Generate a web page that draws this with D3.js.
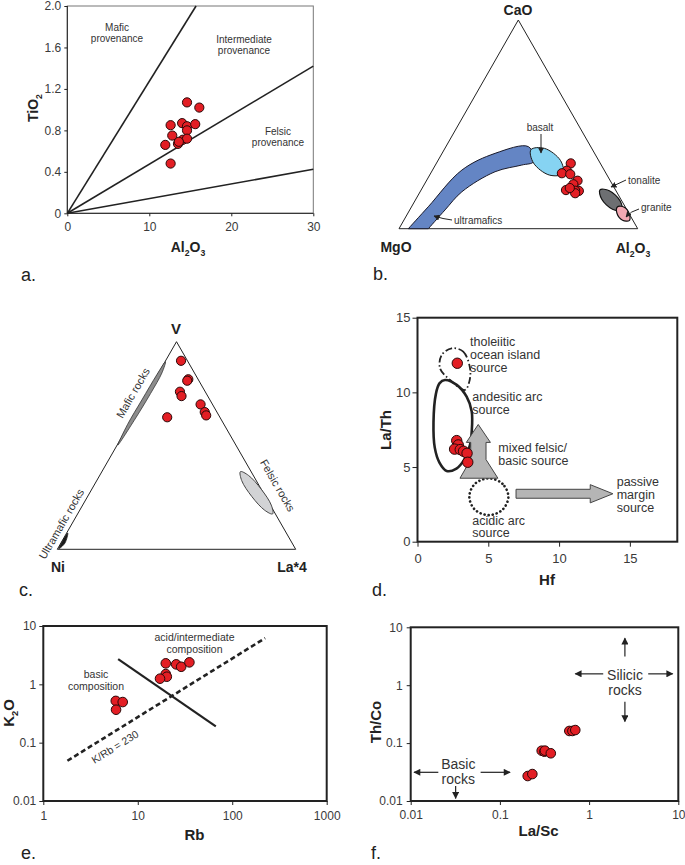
<!DOCTYPE html>
<html>
<head>
<meta charset="utf-8">
<script src="https://cdn.jsdelivr.net/npm/d3@7"></script>
<style>
  body { margin: 0; background: #fff; }
  svg { font-family: "Liberation Sans", Arial, Helvetica, sans-serif; }
</style>
</head>
<body>
<script>
/* ---- a. TiO2 vs Al2O3 ---- */
var aAl2O3 = [14.6, 16.1, 12.6, 14.0, 14.6, 15.6, 14.6, 12.8, 14.1, 14.6, 13.5, 13.6, 11.95, 12.6];
var aTiO2  = [1.07, 1.02, 0.85, 0.87, 0.84, 0.86, 0.80, 0.75, 0.71, 0.72, 0.67, 0.69, 0.66, 0.48];
var aBoundaries = [[[0, 0], [15.7, 2.0]], [[0, 0], [30, 1.42]], [[0, 0], [30, 0.425]]];
var aXTicks = [0, 10, 20, 30];
var aYTicks = [0, 0.4, 0.8, 1.2, 1.6, 2.0];

/* ---- b. CaO - MgO - Al2O3 ternary, points are [CaO, MgO, Al2O3] ---- */
var bSamples = [[31.3, 12.4, 56.3], [27.8, 15.8, 56.4], [26.6, 18.5, 55.0], [26.1, 15.2, 58.7],
                [23.0, 13.7, 63.3], [21.3, 16.3, 62.4], [18.5, 20.8, 60.7], [18.1, 15.6, 66.3],
                [18.2, 17.1, 64.7], [17.0, 17.7, 65.3], [19.5, 18.7, 61.8]];
var bUltramaficOuter = [[0, 96.1, 3.9], [10.5, 82.5, 7.0], [28.1, 59.6, 12.3], [36.1, 41.7, 22.2], [39.3, 26.1, 34.6]];
var bUltramaficInner = [[32.1, 27.6, 40.3], [30.5, 33.3, 36.2], [27.3, 46.1, 26.6], [17.7, 64.8, 17.5], [9.0, 76.2, 14.8], [0, 87.7, 12.3]];
var bBasalt   = [[26.35, 18.15, 55.5], [25.73, 24.2, 50.1], [31.48, 27.9, 40.6], [37.85, 25.8, 36.35], [38.48, 19.8, 41.7], [32.68, 16.0, 51.3]];
var bTonalite = [[8.86, 2.2, 88.9], [9.34, 5.9, 84.8], [14.23, 8.0, 77.8], [18.64, 6.5, 74.85], [18.16, 2.8, 79.0], [13.27, 0.7, 86.0]];
var bGranite  = [[3.88, 1.6, 94.5], [4.07, 4.3, 91.6], [7.38, 5.0, 87.6], [10.49, 3.2, 86.3], [10.3, 0.5, 89.2], [7.0, 0.0, 93.0]];

/* ---- c. V - Ni - La*4 ternary, points are [V, Ni, La*4] ---- */
var cSamples = [[90.8, 2.7, 6.5], [81.9, 4.1, 14.0], [81.2, 4.9, 13.9], [75.9, 10.6, 13.5], [73.8, 11.0, 15.2],
                [69.8, 5.0, 25.2], [66.1, 5.1, 28.8], [64.5, 5.3, 30.2], [63.6, 22.1, 14.3]];
var cMafic  = [[90.4, 9.4, 0.2], [85, 13.6, 1.4], [75, 23.4, 1.6], [62, 36.8, 1.2], [50.2, 49.5, 0.3], [60, 40.6, -0.6], [72, 28.5, -0.5], [84, 16.3, -0.3]];
var cFelsic = [[17.05, 1.15, 81.8], [18.8, 3.6, 77.6], [25.4, 5.7, 68.9], [33.1, 6.1, 60.8], [37.4, 4.5, 58.1], [35.6, 2.0, 62.4], [29.0, 0.0, 71.0], [21.3, -0.4, 79.1]];
var cUltramafic = [[0.3, 99.2, 0.5], [3, 95.3, 1.7], [7.8, 91.7, 0.5], [4, 95.8, 0.2]];

/* ---- d. La/Th vs Hf ---- */
var dHf   = [2.81, 2.77, 2.88, 2.62, 3.02, 3.25, 3.5, 3.55];
var dLaTh = [11.95, 6.77, 6.48, 6.2, 6.17, 6.06, 5.92, 5.32];
var dTholeiitic = [[2.42, 12.95], [3.23, 12.73], [3.71, 11.61], [3.66, 10.72], [3.35, 10.16], [2.30, 10.83], [1.59, 11.61], [1.71, 12.5]];
var dAndesitic = [[1.94, 10.83], [2.77, 10.5], [3.47, 9.71], [3.83, 8.71], [3.83, 7.37], [3.71, 6.48], [3.3, 5.5],
                  [2.75, 4.9], [2.06, 4.74], [1.55, 5.3], [1.22, 6.3], [1.13, 8.0], [1.3, 9.9], [1.55, 10.6]];
var dAcidic = [[6.42, 3.01], [6.0, 3.88], [5.04, 4.24], [4.06, 3.88], [3.66, 3.01], [4.06, 2.14], [5.04, 1.78], [6.0, 2.14]];
var dMixedArrow = [[4.29, 7.85], [5.15, 6.65], [4.84, 6.65], [4.84, 5.5], [5.68, 4.25], [3.0, 4.25], [3.76, 5.5], [3.76, 6.65], [3.45, 6.65]];
var dPassiveArrow = [[6.96, 3.51], [12.2, 3.51], [12.2, 3.82], [13.8, 3.21], [12.2, 2.6], [12.2, 2.91], [6.96, 2.91]];
var dTicks = [0, 5, 10, 15];

/* ---- e. K2O vs Rb ---- */
var eRb  = [19.8, 25.5, 28.8, 35.2, 19.8, 20.3, 17.2, 5.85, 6.93, 5.89];
var eK2O = [2.29, 2.2, 2.0, 2.38, 1.5, 1.35, 1.25, 0.52, 0.497, 0.367];
var eKRbLine = [[1.8, 0.049], [223, 6.2]];
var eDivider = [[6.2, 2.7], [67, 0.19]];
var eXTicks = [1, 10, 100, 1000];
var eYTicks = [0.01, 0.1, 1, 10];

/* ---- f. Th/Co vs La/Sc ---- */
var fLaSc = [0.205, 0.231, 0.294, 0.315, 0.32, 0.372, 0.6, 0.65, 0.7];
var fThCo = [0.027, 0.0292, 0.0739, 0.071, 0.074, 0.0667, 0.162, 0.162, 0.168];
var fArrows = [[[2.52, 3.12], [2.52, 6.5]], [[2.52, 0.52], [2.52, 0.235]], [[1.44, 1.57], [0.70, 1.57]], [[4.6, 1.57], [8.65, 1.57]],
               [[0.0204, 0.0313], [0.0109, 0.0313]], [[0.0608, 0.0313], [0.13, 0.0313]], [[0.0319, 0.0182], [0.0319, 0.0111]]];
var fTicks = [0.01, 0.1, 1, 10];

var RED = "#e31e24", DOT_STROKE = "#2a0808", TXT = "#333";

var svg = d3.select("body").append("svg")
    .attr("width", 685)
    .attr("height", 865);

var defs = svg.append("defs");
defs.append("marker").attr("id", "headS")
    .attr("viewBox", "0 0 10 10").attr("refX", 9).attr("refY", 5)
    .attr("markerWidth", 6).attr("markerHeight", 6).attr("markerUnits", "userSpaceOnUse")
    .attr("orient", "auto")
    .append("path").attr("d", "M0,0 L10,5 L0,10 Z").attr("fill", "#222");
defs.append("marker").attr("id", "headF")
    .attr("viewBox", "0 0 10 10").attr("refX", 9).attr("refY", 5)
    .attr("markerWidth", 8).attr("markerHeight", 7).attr("markerUnits", "userSpaceOnUse")
    .attr("orient", "auto")
    .append("path").attr("d", "M0,0 L10,5 L0,10 Z").attr("fill", "#222");

/* helpers */
function subText(g, x, y, parts, size, opts) {
    opts = opts || {};
    var t = g.append("text")
        .attr("x", x).attr("y", y)
        .attr("text-anchor", opts.anchor || "middle")
        .attr("font-size", size)
        .attr("font-weight", opts.bold ? "bold" : "normal")
        .attr("fill", opts.fill || "#222");
    if (opts.rotate) t.attr("transform", "rotate(" + opts.rotate + "," + x + "," + y + ")");
    var shifted = false;
    parts.forEach(function(p) {
        var s = t.append("tspan").text(p[0]);
        if (p[1]) { s.attr("font-size", size * 0.62).attr("dy", shifted ? 0 : size * 0.28); shifted = true; }
        else if (shifted) { s.attr("dy", -size * 0.28); shifted = false; }
    });
    return t;
}

function textRows(g, x, y, rows, size, anchor, lh) {
    rows.forEach(function(r, i) {
        g.append("text").attr("x", x).attr("y", y + i * lh)
            .attr("text-anchor", anchor).attr("font-size", size)
            .attr("fill", TXT).text(r);
    });
}

function styleAxis(sel, size) {
    sel.select(".domain").remove();
    sel.selectAll(".tick line").attr("stroke", "#222").attr("stroke-width", 1);
    sel.selectAll(".tick text").attr("fill", "#3a3a3a").style("font-size", size + "px")
        .style("font-family", "Liberation Sans, Arial, sans-serif");
}

function dots(g, pts, r) {
    g.selectAll(null).data(pts).enter().append("circle")
        .attr("cx", function(d) { return d[0]; })
        .attr("cy", function(d) { return d[1]; })
        .attr("r", r)
        .attr("fill", RED).attr("stroke", DOT_STROKE).attr("stroke-width", 1);
}

function panelLetter(x, y, s) {
    svg.append("text").attr("x", x).attr("y", y).attr("font-size", 18).attr("fill", "#222").text(s);
}

function logFmt(d) { return d >= 1 ? d3.format("d")(d) : String(d); }

/* ternary projection: top, left, right apexes */
function ternary(T, L, R) {
    var xs = d3.scaleLinear().domain([0, 1]).range([L[0], R[0]]);
    var ys = d3.scaleLinear().domain([0, 1]).range([L[1], T[1]]);
    return function(p) {
        var s = p[0] + p[1] + p[2], a = p[0] / s, c = p[2] / s;
        return [xs(c + a / 2), ys(a)];
    };
}
var curveClosed = d3.line().curve(d3.curveCatmullRomClosed);
var curveOpen = d3.line().curve(d3.curveCatmullRom);

/* ================= a ================= */
(function() {
    var g = svg.append("g");
    var x = d3.scaleLinear().domain([0, 30]).range([67.3, 313.3]);
    var y = d3.scaleLinear().domain([0, 2]).range([213.3, 6]);

    g.append("rect").attr("x", x(0)).attr("y", y(2)).attr("width", x(30) - x(0)).attr("height", y(0) - y(2))
        .attr("fill", "none").attr("stroke", "#777").attr("stroke-width", 1);
    g.append("line").attr("x1", x(0)).attr("x2", x(0)).attr("y1", y(0)).attr("y2", y(2)).attr("stroke", "#222");
    g.append("line").attr("x1", x(0)).attr("x2", x(30)).attr("y1", y(0)).attr("y2", y(0)).attr("stroke", "#222");

    var ln = d3.line().x(function(d) { return x(d[0]); }).y(function(d) { return y(d[1]); });
    g.selectAll(".bnd").data(aBoundaries).enter().append("path")
        .attr("d", ln).attr("fill", "none").attr("stroke", "#222").attr("stroke-width", 1.6);

    g.append("g").attr("transform", "translate(0," + y(0) + ")")
        .call(d3.axisBottom(x).tickValues(aXTicks).tickSize(3).tickPadding(6)).call(styleAxis, 12);
    g.append("g").attr("transform", "translate(" + x(0) + ",0)")
        .call(d3.axisLeft(y).tickValues(aYTicks).tickSize(3).tickPadding(3)
            .tickFormat(function(d) { return d === 0 ? "0" : d3.format(".1f")(d); })).call(styleAxis, 12);

    dots(g, aAl2O3.map(function(v, i) { return [x(v), y(aTiO2[i])]; }), 4.6);

    textRows(g, 117, 30.5, ["Mafic", "provenance"], 10, "middle", 11.5);
    textRows(g, 244, 42.5, ["Intermediate", "provenance"], 10, "middle", 11.5);
    textRows(g, 278, 134.5, ["Felsic", "provenance"], 10, "middle", 11.5);

    subText(g, 38, 108, [["TiO", 0], ["2", 1]], 14, { bold: true, rotate: -90 });
    subText(g, 188, 252, [["Al", 0], ["2", 1], ["O", 0], ["3", 1]], 14, { bold: true });
    panelLetter(21, 281, "a.");
})();

/* ================= b ================= */
(function() {
    var g = svg.append("g");
    var T = [518.3, 20], L = [399, 228.7], R = [637.7, 228.7];
    var P = ternary(T, L, R);

    g.append("path").attr("d", "M" + [T, L, R].join("L") + "Z")
        .attr("fill", "none").attr("stroke", "#222").attr("stroke-width", 1);

    g.append("path").attr("d", curveOpen(bUltramaficOuter.concat(bUltramaficInner).map(P)) + "Z")
        .attr("fill", "#6485c4").attr("stroke", "#1a1a2a").attr("stroke-width", 1);
    g.append("path").attr("d", curveClosed(bBasalt.map(P)))
        .attr("fill", "#86d3f2").attr("stroke", "#1a1a1a").attr("stroke-width", 1);
    g.append("path").attr("d", curveClosed(bTonalite.map(P)))
        .attr("fill", "#6d6f72").attr("stroke", "#111").attr("stroke-width", 1.2);
    g.append("path").attr("d", curveClosed(bGranite.map(P)))
        .attr("fill", "#f3a9b3").attr("stroke", "#111").attr("stroke-width", 1.2);

    dots(g, bSamples.map(P), 4.6);

    /* labels and leaders */
    g.append("text").attr("x", 540).attr("y", 131).attr("text-anchor", "middle").attr("font-size", 10).attr("fill", TXT).text("basalt");
    g.append("path").attr("d", "M541,134 L541,153").attr("stroke", "#222").attr("fill", "none").attr("marker-end", "url(#headS)");
    g.append("text").attr("x", 628).attr("y", 183.5).attr("font-size", 10).attr("fill", TXT).text("tonalite");
    g.append("path").attr("d", "M626,180 L611,187").attr("stroke", "#222").attr("fill", "none").attr("marker-end", "url(#headS)");
    g.append("text").attr("x", 641).attr("y", 210.5).attr("font-size", 10).attr("fill", TXT).text("granite");
    g.append("path").attr("d", "M639,209 Q631,211 626,217").attr("stroke", "#222").attr("fill", "none").attr("marker-end", "url(#headS)");
    g.append("text").attr("x", 454).attr("y", 223.5).attr("font-size", 10).attr("fill", TXT).text("ultramafics");
    g.append("path").attr("d", "M452,220 Q443,219 434,216").attr("stroke", "#222").attr("fill", "none").attr("marker-end", "url(#headS)");

    subText(g, 518, 14.5, [["CaO", 0]], 14, { bold: true });
    subText(g, 396, 252, [["MgO", 0]], 14, { bold: true });
    subText(g, 633, 253, [["Al", 0], ["2", 1], ["O", 0], ["3", 1]], 14, { bold: true });
    panelLetter(373, 280, "b.");
})();

/* ================= c ================= */
(function() {
    var g = svg.append("g");
    var T = [176.5, 341.7], L = [57.3, 549.3], R = [295.7, 549.3];
    var P = ternary(T, L, R);

    g.append("path").attr("d", "M" + [T, L, R].join("L") + "Z")
        .attr("fill", "none").attr("stroke", "#222").attr("stroke-width", 1);

    g.append("path").attr("d", curveClosed(cMafic.map(P)))
        .attr("fill", "#8c8c8c").attr("stroke", "#333").attr("stroke-width", 0.8);
    g.append("path").attr("d", curveClosed(cFelsic.map(P)))
        .attr("fill", "#d2d3d5").attr("stroke", "#444").attr("stroke-width", 1);
    g.append("path").attr("d", curveClosed(cUltramafic.map(P)))
        .attr("fill", "#1a1a1a").attr("stroke", "#1a1a1a").attr("stroke-width", 0.8);

    dots(g, cSamples.map(P), 4.6);

    function rotLabel(x, y, a, s) {
        g.append("text").attr("x", x).attr("y", y).attr("dy", "0.35em")
            .attr("text-anchor", "middle").attr("font-size", 11).attr("fill", TXT)
            .attr("transform", "rotate(" + a + "," + x + "," + y + ")").text(s);
    }
    rotLabel(133, 393, -60, "Mafic rocks");
    rotLabel(61.5, 524, -60, "Ultramafic rocks");
    rotLabel(277.5, 485.5, 60, "Felsic rocks");

    subText(g, 176, 334, [["V", 0]], 15, { bold: true });
    subText(g, 58, 572, [["Ni", 0]], 14, { bold: true });
    subText(g, 292, 572, [["La*4", 0]], 14, { bold: true });
    panelLetter(19, 596, "c.");
})();

/* ================= d ================= */
(function() {
    var g = svg.append("g");
    var x = d3.scaleLinear().domain([0, 18.35]).range([417.5, 677.3]);
    var y = d3.scaleLinear().domain([0, 15]).range([541.7, 317.7]);
    var ln = d3.line().x(function(d) { return x(d[0]); }).y(function(d) { return y(d[1]); });
    var cl = d3.line().x(function(d) { return x(d[0]); }).y(function(d) { return y(d[1]); }).curve(d3.curveCatmullRomClosed);

    g.append("rect").attr("x", x(0)).attr("y", y(15)).attr("width", x(18.35) - x(0)).attr("height", y(0) - y(15))
        .attr("fill", "none").attr("stroke", "#222").attr("stroke-width", 2);

    g.append("g").attr("transform", "translate(0," + y(0) + ")")
        .call(d3.axisBottom(x).tickValues(dTicks).tickSize(5).tickPadding(7)).call(styleAxis, 13);
    g.append("g").attr("transform", "translate(" + x(0) + ",0)")
        .call(d3.axisLeft(y).tickValues(dTicks).tickSize(5).tickPadding(2)).call(styleAxis, 13);

    g.append("path").attr("d", cl(dTholeiitic)).attr("fill", "none").attr("stroke", "#222")
        .attr("stroke-width", 1.8).attr("stroke-dasharray", "7,2.5,1.5,2.5");
    g.append("path").attr("d", cl(dAndesitic)).attr("fill", "none").attr("stroke", "#222").attr("stroke-width", 2.6);
    g.append("path").attr("d", cl(dAcidic)).attr("fill", "none").attr("stroke", "#222")
        .attr("stroke-width", 2.6).attr("stroke-dasharray", "0.1,4").attr("stroke-linecap", "round");
    g.append("path").attr("d", ln(dMixedArrow) + "Z").attr("fill", "#b5b5b5").attr("stroke", "#444").attr("stroke-width", 1);
    g.append("path").attr("d", ln(dPassiveArrow) + "Z").attr("fill", "#b5b5b5").attr("stroke", "#444").attr("stroke-width", 1);

    dots(g, dHf.map(function(v, i) { return [x(v), y(dLaTh[i])]; }), 5.2);

    textRows(g, 470, 346, ["tholeiitic", "ocean island", "source"], 12.5, "start", 13.2);
    textRows(g, 472.3, 401, ["andesitic arc", "source"], 12.5, "start", 12.8);
    textRows(g, 498.3, 451.5, ["mixed felsic/", "basic source"], 12.5, "start", 13.4);
    textRows(g, 616.7, 485.5, ["passive", "margin", "source"], 12.5, "start", 13.2);
    textRows(g, 472.3, 524.5, ["acidic arc", "source"], 12.5, "start", 12.8);

    subText(g, 391, 430, [["La/Th", 0]], 15, { bold: true, rotate: -90 });
    subText(g, 547, 585, [["Hf", 0]], 15, { bold: true });
    panelLetter(372, 596, "d.");
})();

/* ================= e ================= */
(function() {
    var g = svg.append("g");
    var x = d3.scaleLog().domain([1, 1000]).range([43.3, 326.7]);
    var y = d3.scaleLog().domain([0.01, 10]).range([801, 626]);
    var ln = d3.line().x(function(d) { return x(d[0]); }).y(function(d) { return y(d[1]); });

    g.append("rect").attr("x", x(1)).attr("y", y(10)).attr("width", x(1000) - x(1)).attr("height", y(0.01) - y(10))
        .attr("fill", "none").attr("stroke", "#222").attr("stroke-width", 2);
    g.append("g").attr("transform", "translate(0," + y(0.01) + ")")
        .call(d3.axisBottom(x).tickValues(eXTicks).tickFormat(logFmt).tickSize(4).tickPadding(6)).call(styleAxis, 12);
    g.append("g").attr("transform", "translate(" + x(1) + ",0)")
        .call(d3.axisLeft(y).tickValues(eYTicks).tickFormat(logFmt).tickSize(4).tickPadding(3)).call(styleAxis, 12);

    g.append("path").attr("d", ln(eKRbLine)).attr("fill", "none").attr("stroke", "#222")
        .attr("stroke-width", 2.6).attr("stroke-dasharray", "5,3");
    g.append("path").attr("d", ln(eDivider)).attr("fill", "none").attr("stroke", "#222").attr("stroke-width", 2.2);

    dots(g, eRb.map(function(v, i) { return [x(v), y(eK2O[i])]; }), 4.8);

    textRows(g, 194.5, 640.5, ["acid/intermediate", "composition"], 10.5, "middle", 12);
    textRows(g, 96, 677.5, ["basic", "composition"], 10.5, "middle", 12);
    g.append("text").attr("x", 115).attr("y", 747).attr("dy", "0.35em").attr("text-anchor", "middle")
        .attr("font-size", 10.5).attr("fill", TXT)
        .attr("transform", "rotate(-32,115,747)").text("K/Rb = 230");

    subText(g, 13.5, 713, [["K", 0], ["2", 1], ["O", 0]], 15, { bold: true, rotate: -90 });
    subText(g, 194.5, 839.5, [["Rb", 0]], 15, { bold: true });
    panelLetter(21, 859, "e.");
})();

/* ================= f ================= */
(function() {
    var g = svg.append("g");
    var x = d3.scaleLog().domain([0.01, 10]).range([410.7, 678.3]);
    var y = d3.scaleLog().domain([0.01, 10]).range([801, 627.3]);

    g.append("rect").attr("x", x(0.01)).attr("y", y(10)).attr("width", x(10) - x(0.01)).attr("height", y(0.01) - y(10))
        .attr("fill", "none").attr("stroke", "#222").attr("stroke-width", 2);
    g.append("g").attr("transform", "translate(0," + y(0.01) + ")")
        .call(d3.axisBottom(x).tickValues(fTicks).tickFormat(logFmt).tickSize(4).tickPadding(5)).call(styleAxis, 12);
    g.append("g").attr("transform", "translate(" + x(0.01) + ",0)")
        .call(d3.axisLeft(y).tickValues(fTicks).tickFormat(logFmt).tickSize(4).tickPadding(4)).call(styleAxis, 12);

    g.selectAll(".arr").data(fArrows).enter().append("line")
        .attr("x1", function(d) { return x(d[0][0]); }).attr("y1", function(d) { return y(d[0][1]); })
        .attr("x2", function(d) { return x(d[1][0]); }).attr("y2", function(d) { return y(d[1][1]); })
        .attr("stroke", "#222").attr("stroke-width", 1.2).attr("marker-end", "url(#headF)");

    dots(g, fLaSc.map(function(v, i) { return [x(v), y(fThCo[i])]; }), 4.8);

    textRows(g, 625, 680, ["Silicic", "rocks"], 14, "middle", 15);
    textRows(g, 458.3, 769, ["Basic", "rocks"], 14, "middle", 15);

    subText(g, 380.5, 722, [["Th/Co", 0]], 15, { bold: true, rotate: -90 });
    subText(g, 538.5, 835.5, [["La/Sc", 0]], 15, { bold: true });
    panelLetter(371, 859, "f.");
})();
</script>
</body>
</html>
